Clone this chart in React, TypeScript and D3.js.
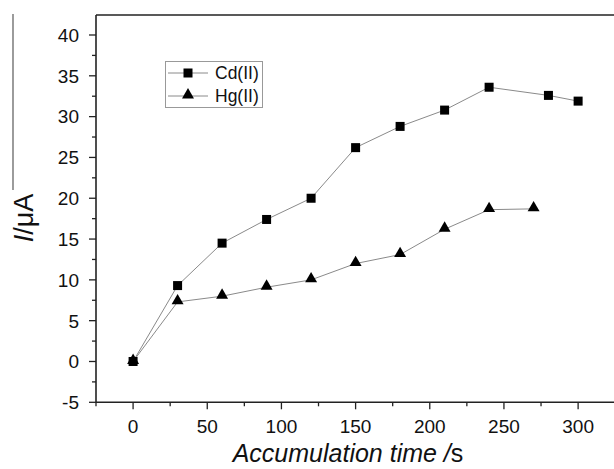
import React from "react";
import * as d3 from "d3";

const cdTimes = [0, 30, 60, 90, 120, 150, 180, 210, 240, 280, 300];
const cdValues = [0, 9.3, 14.5, 17.4, 20.0, 26.2, 28.8, 30.8, 33.6, 32.6, 31.9];
const hgTimes = [0, 30, 60, 90, 120, 150, 180, 210, 240, 270];
const hgValues = [0, 7.3, 8.0, 9.1, 10.0, 12.0, 13.1, 16.2, 18.6, 18.7];
const xTicks = [0, 50, 100, 150, 200, 250, 300];
const yTicks = [-5, 0, 5, 10, 15, 20, 25, 30, 35, 40];
const seriesNames = ["Cd(II)", "Hg(II)"];

export default function App() {
  const W = 614, H = 469;
  const left = 96, right = 615.2, top = 15, bottom = 402.3;
  const x = d3.scaleLinear().domain([-25, 325]).range([left, right]);
  const y = d3.scaleLinear().domain([-5, 42.45]).range([bottom, top]);
  const line = d3.line<[number, number]>().x(d => x(d[0])).y(d => y(d[1]));
  const cd: [number, number][] = cdTimes.map((t, i) => [t, cdValues[i]]);
  const hg: [number, number][] = hgTimes.map((t, i) => [t, hgValues[i]]);
  const tri = d3.symbol().type(d3.symbolTriangle).size(62)() as string;
  const font = "Arial, 'Liberation Sans', sans-serif";
  const axisColor = "#222";
  const lineColor = "#8a8a8a";
  const xMinor = d3.range(-25, 326, 25).filter(v => !xTicks.includes(v));
  const yMinor = d3.range(-5, 42.5, 2.5).filter(v => !yTicks.includes(v));

  return (
    <svg width={W} height={H} style={{ position: "absolute", left: 0, top: 0, background: "#fff" }}>
      {/* stray vertical line at left */}
      <line x1={13} x2={13} y1={14} y2={190} stroke="#666" strokeWidth={1.3} />
      {/* frame */}
      <line x1={left} x2={W} y1={top} y2={top} stroke={axisColor} strokeWidth={1.6} />
      <line x1={left} x2={left} y1={top} y2={bottom} stroke={axisColor} strokeWidth={1.6} />
      <line x1={left} x2={W} y1={bottom} y2={bottom} stroke={axisColor} strokeWidth={1.6} />
      {/* y ticks */}
      {yTicks.map(v => (
        <g key={"y" + v}>
          <line x1={left - 7} x2={left} y1={y(v)} y2={y(v)} stroke={axisColor} strokeWidth={1.3} />
          <text x={79} y={y(v)} dy="0.36em" textAnchor="end" fontFamily={font} fontSize={19} fill="#111">{v}</text>
        </g>
      ))}
      {yMinor.map(v => (
        <line key={"ym" + v} x1={left - 4} x2={left} y1={y(v)} y2={y(v)} stroke={axisColor} strokeWidth={1.3} />
      ))}
      {/* x ticks */}
      {xTicks.map(v => (
        <g key={"x" + v}>
          <line x1={x(v)} x2={x(v)} y1={bottom} y2={bottom + 7} stroke={axisColor} strokeWidth={1.3} />
          <text x={x(v)} y={433} textAnchor="middle" fontFamily={font} fontSize={19} fill="#111">{v}</text>
        </g>
      ))}
      {xMinor.map(v => (
        <line key={"xm" + v} x1={x(v)} x2={x(v)} y1={bottom} y2={bottom + 4} stroke={axisColor} strokeWidth={1.3} />
      ))}
      {/* series */}
      <path d={line(cd) as string} fill="none" stroke={lineColor} strokeWidth={1} />
      <path d={line(hg) as string} fill="none" stroke={lineColor} strokeWidth={1} />
      {cd.map((d, i) => (
        <rect key={"c" + i} x={x(d[0]) - 4.5} y={y(d[1]) - 4.5} width={9} height={9} fill="#000" />
      ))}
      {hg.map((d, i) => (
        <path key={"h" + i} d={tri} transform={`translate(${x(d[0])},${y(d[1]) - 1})`} fill="#000" />
      ))}
      {/* legend */}
      <rect x={165.5} y={61.5} width={97} height={46} fill="#fff" stroke="#999" strokeWidth={1} />
      <line x1={168} x2={208} y1={73} y2={73} stroke={lineColor} strokeWidth={1} />
      <rect x={183.5} y={68.5} width={9} height={9} fill="#000" />
      <text x={215} y={73} dy="0.36em" fontFamily={font} fontSize={17.5} fill="#111">{seriesNames[0]}</text>
      <line x1={168} x2={208} y1={96} y2={96} stroke={lineColor} strokeWidth={1} />
      <path d={tri} transform="translate(188,95)" fill="#000" />
      <text x={215} y={96} dy="0.36em" fontFamily={font} fontSize={17.5} fill="#111">{seriesNames[1]}</text>
      {/* axis titles */}
      <text transform="translate(32.5,218) rotate(-90)" textAnchor="middle" fontFamily={font} fontSize={27} fill="#111">
        <tspan fontStyle="italic">I</tspan>/μA
      </text>
      <text x={348} y={462} textAnchor="middle" fontFamily={font} fontSize={25} fill="#111">
        <tspan fontStyle="italic">Accumulation time /</tspan>s
      </text>
    </svg>
  );
}
